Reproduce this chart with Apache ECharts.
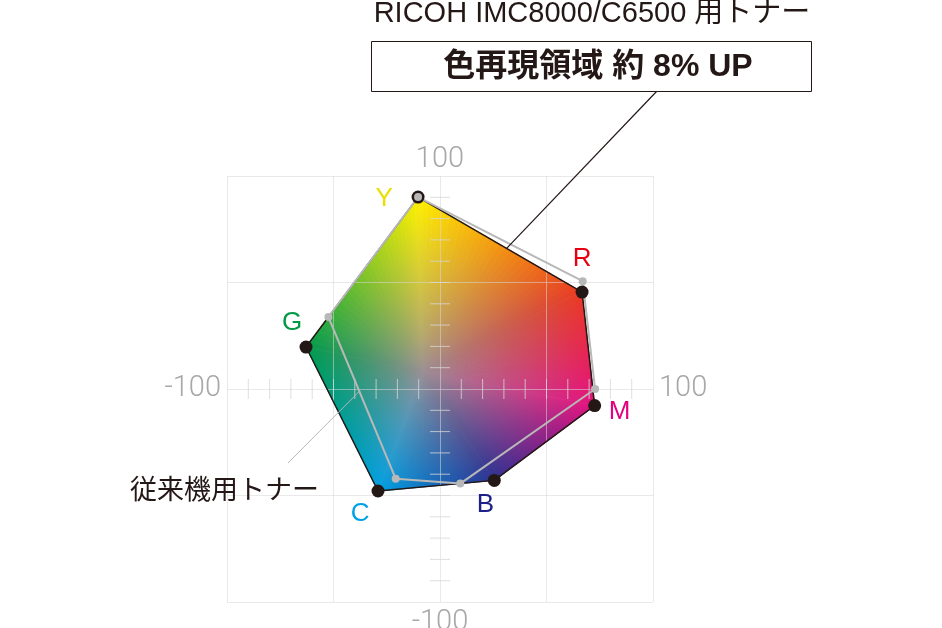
<!DOCTYPE html>
<html><head><meta charset="utf-8">
<script src="https://cdn.jsdelivr.net/npm/echarts@6/dist/echarts.min.js"></script>
<style>html,body{margin:0;padding:0;background:#fff}#c{width:942px;height:628px}</style>
</head><body><div id="c"></div>
<script>
// ---- data ----
const vertexNames = ['Y', 'R', 'M', 'B', 'C', 'G'];
const newToner = [[-10.3, 90.1], [66.7, 45.5], [72.6, -7.8], [25.5, -42.9], [-29.1, -47.9], [-62.9, 19.7]];
const oldToner = [[-10.3, 90.1], [67.0, 50.6], [72.8, 0.0], [9.5, -44.4], [-20.8, -42.1], [-52.4, 33.8]];
const vertexColors = ['#fff100', '#ea3a22', '#e4127f', '#2e3192', '#00a0e2', '#009b4c'];
const labelColors = ['#eadf00', '#e60012', '#e4007f', '#1d2088', '#00a0e9', '#009944'];
const axisTicks = [-90, -80, -70, -60, -50, -40, -30, -20, -10, 10, 20, 30, 40, 50, 60, 70, 80, 90];
const axisEndLabels = [[-100, 0, '-100'], [100, 0, '100'], [0, 100, '100'], [0, -100, '-100']];
const neutralPoint = [-8, 8];
const neutralColor = '#9a8f94';
const titleText = 'RICOH IMC8000/C6500 用トナー';
const boxText = '色再現領域 約 8% UP';
const oldLabel = '従来機用トナー';

// ---- helpers ----
function hexToRgb(h) { h = h.replace('#', ''); return [parseInt(h.substr(0, 2), 16), parseInt(h.substr(2, 2), 16), parseInt(h.substr(4, 2), 16)]; }
function mix(a, b, t) { return [0, 1, 2].map(i => Math.round(a[i] + (b[i] - a[i]) * t)); }
function rgb(c) { return 'rgb(' + c.join(',') + ')'; }
function lerpPt(a, b, t) { return [a[0] + (b[0] - a[0]) * t, a[1] + (b[1] - a[1]) * t]; }

const chart = echarts.init(document.getElementById('c'));

function renderFill(params, api) {
  const n = newToner.length;
  const c = api.coord(neutralPoint);
  const g = hexToRgb(neutralColor);
  const children = [];
  const N = 30;
  const stopsAt = [0, 0.25, 0.5, 0.75, 1];
  for (let i = 0; i < n; i++) {
    const a = newToner[i], b = newToner[(i + 1) % n];
    const pa = api.coord(a), pb = api.coord(b);
    const dx = pb[0] - pa[0], dy = pb[1] - pa[1];
    const t = ((c[0] - pa[0]) * dx + (c[1] - pa[1]) * dy) / (dx * dx + dy * dy);
    const foot = [pa[0] + dx * t, pa[1] + dy * t];
    const ca = hexToRgb(vertexColors[i]), cb = hexToRgb(vertexColors[(i + 1) % n]);
    for (let k = 0; k < N; k++) {
      const p0 = api.coord(lerpPt(a, b, k / N));
      const p1 = api.coord(lerpPt(a, b, Math.min(1, (k + 1.25) / N)));
      const col = mix(ca, cb, (k + 0.5) / N);
      const grad = {
        type: 'linear', x: c[0], y: c[1], x2: foot[0], y2: foot[1], global: true,
        colorStops: stopsAt.map(s => ({ offset: s, color: rgb(mix(g, col, Math.pow(s, 0.85))) }))
      };
      children.push({
        type: 'polygon',
        shape: { points: [c, p0, p1] },
        style: { fill: grad, stroke: grad, lineWidth: 0.5 }
      });
    }
  }
  return { type: 'group', children: children };
}

function renderTicks(params, api) {
  const v = api.value(0);
  const px = api.coord([v, 0]);
  const py = api.coord([0, v]);
  const st = { stroke: 'rgba(215,215,215,0.8)', lineWidth: 1 };
  return {
    type: 'group', children: [
      { type: 'line', shape: { x1: px[0], y1: px[1] - 10, x2: px[0], y2: px[1] + 10 }, style: st },
      { type: 'line', shape: { x1: py[0] - 10, y1: py[1], x2: py[0] + 10, y2: py[1] }, style: st }
    ]
  };
}

const labelOffsets = [[-34, 2], [0, -33], [25, 6], [-9, 24], [-18, 23], [-14, -24]];
const endPos = ['left', 'right', 'top', 'bottom'];

const option = {
  animation: false,
  grid: { left: 227, top: 176, width: 426, height: 426 },
  xAxis: {
    type: 'value', min: -100, max: 100, interval: 50, z: 5,
    axisLine: { show: false }, axisTick: { show: false }, axisLabel: { show: false },
    splitLine: { show: true, lineStyle: { color: 'rgba(215,215,215,0.55)', width: 1 } }
  },
  yAxis: {
    type: 'value', min: -100, max: 100, interval: 50, z: 5,
    axisLine: { show: false }, axisTick: { show: false }, axisLabel: { show: false },
    splitLine: { show: true, lineStyle: { color: 'rgba(215,215,215,0.55)', width: 1 } }
  },
  series: [
    { type: 'custom', z: 2, clip: false, renderItem: renderFill, data: [[0, 0]], silent: true },
    { type: 'custom', z: 6, clip: false, renderItem: renderTicks, data: axisTicks.map(v => [v]), silent: true },
    {
      type: 'line', z: 10, symbol: 'none', silent: true,
      data: newToner.concat([newToner[0]]),
      lineStyle: { color: '#231815', width: 1.5 }
    },
    {
      type: 'line', z: 11, symbol: 'none', silent: true,
      data: oldToner.concat([oldToner[0]]),
      lineStyle: { color: '#b8b8b8', width: 2 }
    },
    {
      type: 'scatter', z: 12, symbolSize: 13, silent: true,
      itemStyle: { color: '#231815', opacity: 1 },
      data: newToner
    },
    {
      type: 'scatter', z: 13, symbolSize: 8, silent: true,
      itemStyle: { color: '#b8b8b8', opacity: 1 },
      data: oldToner
    },
    {
      type: 'scatter', z: 14, symbolSize: 0, silent: true,
      itemStyle: { opacity: 1 },
      data: newToner.map((p, i) => ({
        value: p,
        label: {
          show: true, position: 'inside', offset: labelOffsets[i], formatter: vertexNames[i],
          color: labelColors[i], fontSize: 26, fontFamily: 'Liberation Sans, Arial, sans-serif'
        }
      }))
    },
    {
      type: 'scatter', z: 14, symbolSize: 0, silent: true, clip: false,
      itemStyle: { opacity: 1 },
      data: axisEndLabels.map((p, i) => ({
        value: [p[0], p[1]],
        label: {
          show: true, position: endPos[i], distance: endPos[i] === 'top' ? 2 : 6, formatter: p[2],
          color: '#a8a8a8', fontSize: 29, fontWeight: 300, fontFamily: 'Roboto, Liberation Sans, sans-serif'
        }
      }))
    }
  ]
};
chart.setOption(option);

// annotations
const pNew = chart.convertToPixel({ gridIndex: 0 }, lerpPt(newToner[0], newToner[1], 0.54));
const pOld = chart.convertToPixel({ gridIndex: 0 }, lerpPt(oldToner[5], oldToner[4], 0.46));
chart.setOption({
  graphic: [
    { type: 'line', z: 20, shape: { x1: pNew[0], y1: pNew[1], x2: 657, y2: 91 }, style: { stroke: '#231815', lineWidth: 1.2 } },
    { type: 'line', z: 20, shape: { x1: pOld[0], y1: pOld[1], x2: 288, y2: 463 }, style: { stroke: '#b8b8b8', lineWidth: 1 } },
    { type: 'rect', z: 20, shape: { x: 371.5, y: 41.5, width: 440, height: 50 }, style: { fill: '#fff', stroke: '#231815', lineWidth: 1 } },
    {
      type: 'text', z: 21, x: 598, y: 67,
      style: { text: boxText, fill: '#231815', font: 'bold 32px "Liberation Sans", "Noto Sans CJK JP", sans-serif', align: 'center', verticalAlign: 'middle' }
    },
    {
      type: 'text', z: 21, x: 592, y: 14,
      style: { text: titleText, fill: '#231815', font: '29px "Liberation Sans", "Noto Sans CJK JP", sans-serif', align: 'center', verticalAlign: 'middle' }
    },
    {
      type: 'text', z: 21, x: 130, y: 489,
      style: { text: oldLabel, fill: '#231815', font: '27px "Noto Sans CJK JP", sans-serif', align: 'left', verticalAlign: 'middle' }
    }
  ]
});
</script>
</body></html>
